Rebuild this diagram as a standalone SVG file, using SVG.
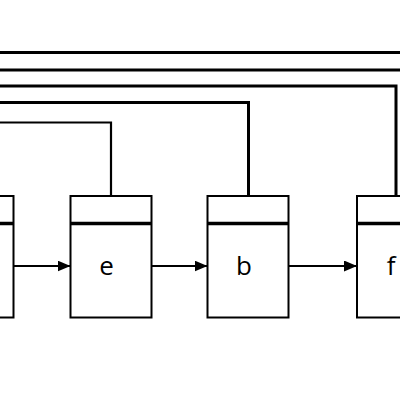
<svg xmlns="http://www.w3.org/2000/svg" width="400" height="400" viewBox="0 0 400 400">
  <style>
    .box { fill: #fff; stroke: #000; stroke-width: 2; }
    .div { stroke: #000; stroke-width: 3.5; }
    .wire { fill: none; stroke: #000; stroke-width: 3; }
    .wire2 { fill: none; stroke: #000; stroke-width: 2.2; }
    .arrow { fill: none; stroke: #000; stroke-width: 2; }
    .lbl { font-family: "Open Sans", "Noto Sans", sans-serif; font-size: 26px; fill: #000; text-anchor: middle; }
  </style>
  <defs>
    <marker id="ah" viewBox="0 0 13 11" refX="13" refY="5.5" markerWidth="13" markerHeight="11" markerUnits="userSpaceOnUse" orient="auto">
      <path d="M0,0 L13,5.5 L0,11 Z" fill="#000"/>
    </marker>
  </defs>
  <rect width="400" height="400" fill="#fff"/>
  <g id="connectors">
    <line class="wire" x1="0" y1="52.5" x2="400" y2="52.5"/>
    <line class="wire" x1="0" y1="70" x2="400" y2="70"/>
    <polyline class="wire" points="0,86 396,86 396,196"/>
    <polyline class="wire" points="0,102.5 248.5,102.5 248.5,196"/>
    <polyline class="wire2" points="0,122.5 111,122.5 111,196"/>
    <line class="arrow" x1="13.5" y1="266" x2="70.5" y2="266" marker-end="url(#ah)"/>
    <line class="arrow" x1="151.5" y1="266" x2="207.5" y2="266" marker-end="url(#ah)"/>
    <line class="arrow" x1="288.5" y1="266" x2="357" y2="266" marker-end="url(#ah)"/>
  </g>
  <g id="node-left">
    <rect class="box" x="-67.5" y="196" width="81" height="121.5"/>
    <line class="div" x1="-67.5" y1="223.5" x2="13.5" y2="223.5"/>
  </g>
  <g id="node-e">
    <rect class="box" x="70.5" y="196" width="81" height="121.5"/>
    <line class="div" x1="70.5" y1="223.5" x2="151.5" y2="223.5"/>
    <text class="lbl" x="106.5" y="275">e</text>
  </g>
  <g id="node-b">
    <rect class="box" x="207.5" y="196" width="81" height="121.5"/>
    <line class="div" x1="207.5" y1="223.5" x2="288.5" y2="223.5"/>
    <text class="lbl" x="244" y="275">b</text>
  </g>
  <g id="node-f">
    <rect class="box" x="357" y="196" width="81" height="121.5"/>
    <line class="div" x1="357" y1="223.5" x2="438" y2="223.5"/>
    <text class="lbl" x="391" y="275">f</text>
  </g>
</svg>
